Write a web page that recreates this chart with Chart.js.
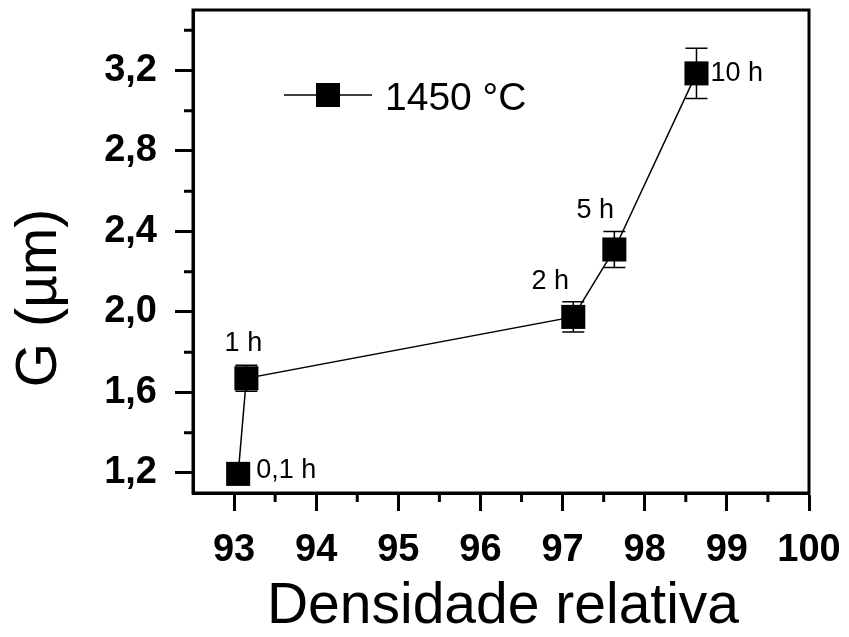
<!DOCTYPE html>
<html>
<head>
<meta charset="utf-8">
<script src="https://cdn.jsdelivr.net/npm/chart.js@4/dist/chart.umd.min.js"></script>
<style>
  html, body { margin: 0; padding: 0; background: #fff; }
  #wrap { width: 849px; height: 637px; }
</style>
</head>
<body>
<div id="wrap"><canvas id="grainChart" width="849" height="637"></canvas></div>
<script>
// data
const densidade = [93.05, 93.15, 97.13, 97.63, 98.63];
const grainSize = [1.195, 1.67, 1.975, 2.31, 3.185];
const grainErr = [0, 0.065, 0.075, 0.09, 0.125];
const timeLabels = ['0,1 h', '1 h', '2 h', '5 h', '10 h'];
const seriesName = '1450 °C';

const xTicks = [93, 94, 95, 96, 97, 98, 99, 100];
const xMinor = [93.5, 94.5, 95.5, 96.5, 97.5, 98.5, 99.5];
const yTicks = [1.2, 1.6, 2.0, 2.4, 2.8, 3.2];
const yMinor = [1.4, 1.8, 2.2, 2.6, 3.0, 3.4];

// label placement next to each point (dx, dy, align)
const labelPos = [[18, -3, 'left'], [-3, -35, 'center'], [-23, -35, 'center'], [-19, -39, 'center'], [14, 0, 'left']];

const FONT = '"Liberation Sans", Arial, sans-serif';

const decor = {
    id: 'decor',
    beforeDatasetsDraw(chart) {
        const {ctx, scales: {x, y}} = chart;
        ctx.save();
        ctx.strokeStyle = '#000';
        ctx.lineWidth = 1.5;
        densidade.forEach((d, i) => {
            if (!grainErr[i]) return;
            const px = x.getPixelForValue(d);
            const top = y.getPixelForValue(grainSize[i] + grainErr[i]);
            const bot = y.getPixelForValue(grainSize[i] - grainErr[i]);
            ctx.beginPath();
            ctx.moveTo(px, top); ctx.lineTo(px, bot);
            ctx.moveTo(px - 11, top); ctx.lineTo(px + 11, top);
            ctx.moveTo(px - 11, bot); ctx.lineTo(px + 11, bot);
            ctx.stroke();
        });
        ctx.restore();
    },
    afterDatasetsDraw(chart) {
        const {ctx, chartArea: a, scales: {x, y}} = chart;
        ctx.save();
        // frame
        ctx.strokeStyle = '#000';
        ctx.lineWidth = 3;
        ctx.strokeRect(a.left, a.top, a.right - a.left, a.bottom - a.top);
        // minor ticks
        ctx.beginPath();
        xMinor.forEach(v => {
            const px = x.getPixelForValue(v);
            ctx.moveTo(px, a.bottom); ctx.lineTo(px, a.bottom + 9);
        });
        yMinor.forEach(v => {
            const py = y.getPixelForValue(v);
            ctx.moveTo(a.left, py); ctx.lineTo(a.left - 9, py);
        });
        ctx.stroke();

        // point labels
        ctx.fillStyle = '#000';
        ctx.font = '27px ' + FONT;
        ctx.textBaseline = 'middle';
        densidade.forEach((d, i) => {
            const px = x.getPixelForValue(d);
            const py = y.getPixelForValue(grainSize[i]);
            ctx.textAlign = labelPos[i][2];
            ctx.fillText(timeLabels[i], px + labelPos[i][0], py + labelPos[i][1]);
        });

        // legend
        ctx.lineWidth = 1.5;
        ctx.beginPath();
        ctx.moveTo(284, 95); ctx.lineTo(372, 95);
        ctx.stroke();
        ctx.fillRect(316, 83, 24, 24);
        ctx.font = '39px ' + FONT;
        ctx.textAlign = 'left';
        ctx.textBaseline = 'alphabetic';
        ctx.fillText(seriesName, 385, 110);

        // axis titles
        ctx.font = '57px ' + FONT;
        ctx.textAlign = 'center';
        ctx.fillText('Densidade relativa', 503, 623);
        ctx.translate(56, 298);
        ctx.rotate(-Math.PI / 2);
        ctx.fillText('G (µm)', 0, 0);
        ctx.restore();
    }
};

new Chart(document.getElementById('grainChart').getContext('2d'), {
    type: 'line',
    data: {
        datasets: [{
            label: seriesName,
            data: densidade.map((d, i) => ({x: d, y: grainSize[i]})),
            borderColor: '#000',
            borderWidth: 1.5,
            backgroundColor: '#000',
            pointStyle: 'rect',
            pointRadius: 17,
            pointBorderWidth: 0,
            pointBackgroundColor: '#000',
            tension: 0
        }]
    },
    options: {
        responsive: false,
        animation: false,
        devicePixelRatio: 1,
        layout: {autoPadding: false, padding: {left: 0, top: 10, right: 40, bottom: 0}},
        plugins: {legend: {display: false}, tooltip: {enabled: false}},
        scales: {
            x: {
                type: 'linear',
                min: 92.5,
                max: 100,
                afterBuildTicks: s => { s.ticks = xTicks.map(v => ({value: v})); },
                afterFit: s => { s.height = 144; s.paddingLeft = 0; s.paddingRight = 0; },
                grid: {drawOnChartArea: false, drawTicks: true, tickLength: 18, tickWidth: 3, tickColor: '#000'},
                border: {display: true, width: 3, color: '#000'},
                ticks: {
                    color: '#000',
                    padding: 17,
                    font: {family: FONT, size: 38, weight: 'bold'},
                    callback: v => String(v)
                }
            },
            y: {
                type: 'linear',
                min: 1.1,
                max: 3.5,
                afterBuildTicks: s => { s.ticks = yTicks.map(v => ({value: v})); },
                afterFit: s => { s.width = 193; s.paddingTop = 0; s.paddingBottom = 0; },
                grid: {drawOnChartArea: false, drawTicks: true, tickLength: 18, tickWidth: 3, tickColor: '#000'},
                border: {display: true, width: 3, color: '#000'},
                ticks: {
                    color: '#000',
                    padding: 18,
                    font: {family: FONT, size: 38, weight: 'bold'},
                    callback: v => v.toFixed(1).replace('.', ',')
                }
            }
        }
    },
    plugins: [decor]
});
</script>
</body>
</html>
